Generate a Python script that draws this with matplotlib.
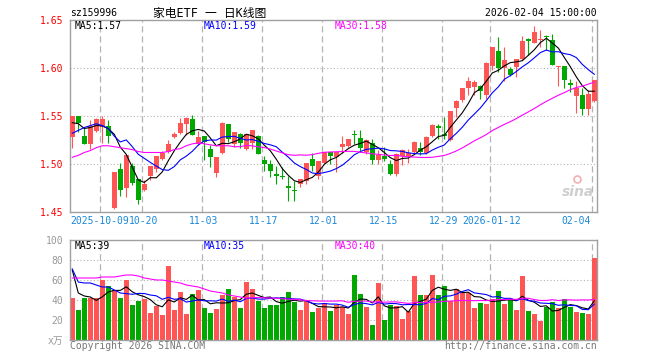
import matplotlib
matplotlib.use('Agg')
import matplotlib.pyplot as plt
import numpy as np
import pandas as pd

# --------------------------------
# DATA (sz159996)
# --------------------------------
opens = [1.528, 1.550, 1.529, 1.521, 1.534, 1.539, 1.540, 1.454, 1.495, 1.475,
         1.498, 1.484, 1.473, 1.487, 1.495, 1.505, 1.512, 1.528, 1.532, 1.542,
         1.547, 1.521, 1.529, 1.516, 1.491, 1.511, 1.542, 1.521, 1.531, 1.516,
         1.522, 1.529, 1.504, 1.500, 1.490, 1.488, 1.477, 1.473, 1.479, 1.482,
         1.505, 1.487, 1.501, 1.512, 1.507, 1.518, 1.519, 1.531, 1.527, 1.512,
         1.522, 1.504, 1.508, 1.500, 1.490, 1.508, 1.508, 1.513, 1.517, 1.511,
         1.529, 1.540, 1.531, 1.525, 1.558, 1.567, 1.579, 1.580, 1.581, 1.572,
         1.602, 1.618, 1.600, 1.599, 1.601, 1.609, 1.630, 1.626, 1.629, 1.633,
         1.629, 1.601, 1.602, 1.584, 1.571, 1.572, 1.557, 1.566]
closes = [1.550, 1.543, 1.521, 1.540, 1.547, 1.547, 1.529, 1.492, 1.473, 1.509,
          1.480, 1.463, 1.479, 1.498, 1.508, 1.511, 1.521, 1.531, 1.543, 1.548,
          1.530, 1.528, 1.523, 1.507, 1.507, 1.543, 1.526, 1.533, 1.522, 1.531,
          1.535, 1.510, 1.500, 1.493, 1.487, 1.486, 1.475, 1.472, 1.484, 1.501,
          1.498, 1.503, 1.512, 1.508, 1.513, 1.521, 1.526, 1.530, 1.517, 1.525,
          1.504, 1.509, 1.505, 1.490, 1.510, 1.515, 1.511, 1.523, 1.513, 1.528,
          1.541, 1.538, 1.529, 1.555, 1.566, 1.579, 1.586, 1.585, 1.576, 1.605,
          1.622, 1.600, 1.608, 1.593, 1.609, 1.628, 1.628, 1.637, 1.630, 1.632,
          1.603, 1.602, 1.588, 1.582, 1.579, 1.557, 1.573, 1.588]
highs = [1.550, 1.550, 1.537, 1.546, 1.548, 1.550, 1.546, 1.492, 1.501, 1.509,
         1.501, 1.484, 1.483, 1.498, 1.508, 1.514, 1.525, 1.533, 1.548, 1.549,
         1.551, 1.534, 1.529, 1.520, 1.507, 1.544, 1.542, 1.533, 1.532, 1.531,
         1.535, 1.530, 1.508, 1.504, 1.498, 1.497, 1.487, 1.482, 1.484, 1.501,
         1.511, 1.503, 1.512, 1.513, 1.514, 1.529, 1.526, 1.535, 1.535, 1.526,
         1.526, 1.515, 1.518, 1.504, 1.511, 1.516, 1.516, 1.524, 1.523, 1.529,
         1.542, 1.542, 1.549, 1.555, 1.567, 1.579, 1.591, 1.587, 1.582, 1.606,
         1.622, 1.632, 1.622, 1.601, 1.609, 1.633, 1.631, 1.644, 1.640, 1.634,
         1.635, 1.602, 1.602, 1.589, 1.586, 1.579, 1.577, 1.588]
lows = [1.517, 1.533, 1.521, 1.516, 1.533, 1.522, 1.522, 1.453, 1.467, 1.466,
        1.478, 1.458, 1.472, 1.483, 1.492, 1.504, 1.511, 1.527, 1.531, 1.530,
        1.530, 1.520, 1.504, 1.497, 1.486, 1.510, 1.523, 1.518, 1.517, 1.515,
        1.516, 1.510, 1.493, 1.486, 1.479, 1.484, 1.461, 1.461, 1.476, 1.479,
        1.493, 1.484, 1.500, 1.500, 1.492, 1.511, 1.518, 1.521, 1.513, 1.510,
        1.500, 1.500, 1.503, 1.489, 1.488, 1.499, 1.501, 1.511, 1.509, 1.510,
        1.528, 1.526, 1.526, 1.524, 1.549, 1.565, 1.572, 1.572, 1.568, 1.568,
        1.598, 1.596, 1.586, 1.592, 1.591, 1.608, 1.614, 1.626, 1.622, 1.619,
        1.603, 1.581, 1.579, 1.575, 1.553, 1.551, 1.551, 1.565]
# volume in 万
vols = [42, 30, 42, 42, 42, 60, 54, 50, 42, 60,
        35, 39, 41, 27, 34, 25, 74, 30, 48, 26,
        46, 50, 32, 27, 31, 45, 51, 43, 32, 58,
        51, 39, 32, 35, 35, 43, 48, 38, 30, 39,
        28, 32, 37, 29, 35, 33, 26, 65, 46, 33,
        15, 57, 20, 35, 34, 21, 29, 64, 45, 45,
        65, 45, 54, 39, 51, 48, 47, 32, 37, 36,
        41, 49, 36, 40, 30, 64, 29, 26, 19, 33,
        38, 32, 41, 33, 28, 27, 26, 82]

# moving average values before enough candles are in view
ma5_head = [1.543, 1.542, 1.537, 1.538]
ma10_head = [1.532, 1.535, 1.538, 1.540, 1.542, 1.540, 1.537, 1.529, 1.523]
ma30_head = [1.507, 1.509, 1.512, 1.514, 1.517, 1.519, 1.519, 1.518, 1.517, 1.516,
             1.515, 1.513, 1.512, 1.512, 1.512, 1.512, 1.513, 1.515, 1.516, 1.519,
             1.521, 1.522, 1.521, 1.520, 1.519, 1.519, 1.519, 1.518, 1.518]
vma5_head = [70, 47, 44, 43]
vma10_head = [71, 58, 57, 57, 55, 53, 53, 50, 47]
vma30_head = [62, 62, 62, 62, 62, 63, 63, 63, 64, 65, 65, 64, 62, 61, 60, 60, 59, 58,
              57, 55, 54, 53, 51, 49, 48, 47, 45, 44, 43]

tick_idx = [5, 12, 22, 32, 42, 52, 62, 70, 87]
tick_labels = ['2025-10-09', '10-20', '11-03', '11-17', '12-01', '12-15', '12-29',
               '2026-01-12', '02-04']

# --------------------------------
# HELPERS
# --------------------------------
def ma(values, n, head):
    s = pd.Series(values, dtype=float).rolling(n).mean().to_numpy()
    s[:len(head)] = head
    return s

def trunc(v, nd):
    f = 10 ** nd
    return np.floor(v * f + 1e-9) / f

W, H = 660, 360
def box(l, t, r, b):
    return [l / W, 1 - b / H, (r - l) / W, (b - t) / H]

RED = '#ff5555'
GREEN = '#00a800'
GRID = '#b4b4b4'
FRAME = '#a0a0a0'
MONO = ['DejaVu Sans Mono', 'Noto Sans CJK SC']

o = np.array(opens); c = np.array(closes)
hi = np.array(highs); lo = np.array(lows)
x = np.arange(len(c))
up = c >= o
cols = np.where(up, RED, GREEN)

ma5 = ma(closes, 5, ma5_head)
ma10 = ma(closes, 10, ma10_head)
ma30 = ma(closes, 30, ma30_head)
vma5 = ma(vols, 5, vma5_head)
vma10 = ma(vols, 10, vma10_head)
vma30 = ma(vols, 30, vma30_head)

fig = plt.figure(figsize=(6.6, 3.6), dpi=100)
ax = fig.add_axes(box(70, 20, 597, 212))
axv = fig.add_axes(box(70, 240, 597, 340))

xlim = (-0.38, len(c) - 1 + 0.45)
grid_x = [i - 0.33 for i in tick_idx]

# --------------------------------
# PRICE PANEL
# --------------------------------
for v in [1.50, 1.55, 1.60]:
    ax.axhline(v, color=GRID, lw=0.8, ls=(0, (1, 2)), zorder=0)
for gx in grid_x:
    ax.axvline(gx, color=GRID, lw=0.9, ls=(0, (5, 3)), zorder=0)

ax.vlines(x, lo, hi, colors=cols, lw=0.8, zorder=2)
body_h = np.maximum(np.abs(c - o), 0.0009)
ax.bar(x, body_h, bottom=np.minimum(o, c), width=0.82, color=cols, zorder=3, linewidth=0)

ax.plot(x, ma5, color='black', lw=0.8, zorder=4)
ax.plot(x, ma10, color='#0000ff', lw=0.8, zorder=4)
ax.plot(x, ma30, color='#ff00ff', lw=0.8, zorder=4)

ax.set_xlim(xlim)
ax.set_ylim(1.45, 1.65)
ax.set_xticks([])
ax.set_yticks([1.45, 1.50, 1.55, 1.60, 1.65])
ax.set_yticklabels(['%.2f' % v for v in [1.45, 1.50, 1.55, 1.60, 1.65]])
ax.tick_params(axis='y', length=0, pad=5, labelcolor='red', labelsize=7)
for lbl in ax.get_yticklabels():
    lbl.set_fontfamily(MONO)

# date labels under the price panel
for k, (gx, lab) in enumerate(zip(grid_x, tick_labels)):
    if k == 0:
        xx, ha = xlim[0], 'left'
    elif k == len(tick_labels) - 1:
        xx, ha = gx - 0.3, 'right'
    else:
        xx, ha = gx + 0.15, 'center'
    ax.text(xx, -0.047, lab, transform=ax.get_xaxis_transform(), ha=ha, va='center',
            color='#1a88d8', fontsize=7.0, family=MONO)

# sina watermark
ax.text(0.995, 0.07, 'sina', transform=ax.transAxes, ha='right', va='bottom',
        fontsize=10, fontstyle='italic', fontweight='bold', color='#cfcfcf', zorder=1)
ax.plot([0.962], [0.17], 'o', transform=ax.transAxes, ms=5, mfc='none', mec='#f2b0b0',
        mew=1.2, zorder=1)

# --------------------------------
# VOLUME PANEL
# --------------------------------
for v in [20, 40, 60, 80]:
    axv.axhline(v, color=GRID, lw=0.8, ls=(0, (1, 2)), zorder=0)
for gx in grid_x:
    axv.axvline(gx, color=GRID, lw=0.9, ls=(0, (5, 3)), zorder=0)

axv.bar(x, vols, width=0.84, color=cols, linewidth=0, zorder=2)
axv.plot(x, vma5, color='black', lw=0.8, zorder=4)
axv.plot(x, vma10, color='#0000ff', lw=0.8, zorder=4)
axv.plot(x, vma30, color='#ff00ff', lw=0.8, zorder=4)

axv.set_xlim(xlim)
axv.set_ylim(0, 100)
axv.set_xticks([])
axv.set_yticks([0, 20, 40, 60, 80, 100])
axv.set_yticklabels(['x万', '20', '40', '60', '80', '100'])
axv.tick_params(axis='y', length=0, pad=5, labelcolor='#999999', labelsize=7)
for lbl in axv.get_yticklabels():
    lbl.set_fontfamily(MONO)

for a in (ax, axv):
    for sp in a.spines.values():
        sp.set_color(FRAME)
        sp.set_linewidth(1.0)

# --------------------------------
# TEXTS
# --------------------------------
def ftext(px, py, s, **kw):
    kw.setdefault('fontsize', 7)
    kw.setdefault('family', MONO)
    kw.setdefault('va', 'center')
    fig.text(px / W, 1 - py / H, s, **kw)

ftext(70, 13, 'sz159996', ha='left')
ftext(210, 13, '家电ETF 一 日K线图', ha='center', fontsize=8.5)
ftext(597, 13, '2026-02-04 15:00:00', ha='right')

ftext(75, 26, 'MA5:%.2f' % trunc(ma5[-1], 2), ha='left', color='black')
ftext(204, 26, 'MA10:%.2f' % trunc(ma10[-1], 2), ha='left', color='#0000ff')
ftext(335, 26, 'MA30:%.2f' % trunc(ma30[-1], 2), ha='left', color='#ff00ff')

ftext(75, 246, 'MA5:%d' % trunc(vma5[-1], 0), ha='left', color='black')
ftext(204, 246, 'MA10:%d' % trunc(vma10[-1], 0), ha='left', color='#0000ff')
ftext(335, 246, 'MA30:%d' % trunc(vma30[-1], 0), ha='left', color='#ff00ff')

ftext(70, 346, 'Copyright 2026 SINA.COM', ha='left', color='#777777')
ftext(597, 346, 'http://finance.sina.com.cn', ha='right', color='#777777')

fig.savefig('out.png', dpi=100, facecolor='white')
